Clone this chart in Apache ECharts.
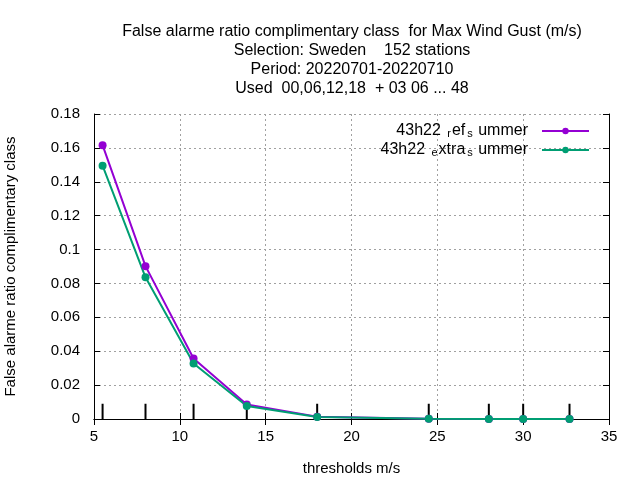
<!DOCTYPE html>
<html>
<head>
<meta charset="utf-8">
<script src="https://cdn.jsdelivr.net/npm/echarts@6/dist/echarts.min.js"></script>
<style>
  html, body { margin: 0; padding: 0; background: #fff; }
  #chart { width: 640px; height: 480px; }
</style>
</head>
<body>
<div id="chart"></div>
<script>
// thresholds (m/s)
var thresholds = [5.5, 8.0, 10.8, 13.9, 18.0, 24.5, 28.0, 30.0, 32.7];
// 43h22_ref_summer
var refSummer = [0.1616, 0.0902, 0.0357, 0.0085, 0.0014, 0.0001, 0, 0, 0];
// 43h22_extra_summer
var extraSummer = [0.1495, 0.0836, 0.0328, 0.0077, 0.0012, 0.0001, 0, 0, 0];
// threshold marks at the bottom
var markHeight = [0.009, 0.009, 0.009, 0.009, 0.009, 0.009, 0.009, 0.009, 0.009];

var titleLines = [
  'False alarme ratio complimentary class  for Max Wind Gust (m/s)',
  'Selection: Sweden    152 stations',
  'Period: 20220701-20220710',
  'Used  00,06,12,18  + 03 06 ... 48'
];

function pairs(xs, ys) {
  var out = [];
  for (var i = 0; i < xs.length; i++) out.push([xs[i], ys[i]]);
  return out;
}

var font = 'Liberation Sans';
var gridLine = { show: true, lineStyle: { color: '#a0a0a0', type: [2, 3], width: 1 } };

var chart = echarts.init(document.getElementById('chart'));

var option = {
  animation: false,
  textStyle: { fontFamily: font },
  title: {
    text: titleLines.join('\n'),
    left: 347,
    top: 17,
    textAlign: 'center',
    textStyle: { fontSize: 16, fontWeight: 'normal', color: '#000', lineHeight: 19, fontFamily: font }
  },
  legend: {
    orient: 'vertical',
    right: 45,
    top: 117,
    align: 'right',
    itemWidth: 47,
    itemHeight: 8,
    itemGap: 2,
    data: ['43h22_ref_summer', '43h22_extra_summer'],
    formatter: function (name) {
      if (name === '43h22_ref_summer') return '{a|43h22 }{s|r}{a|ef}{s|s}{a| ummer}{g|}';
      return '{a|43h22 }{s|e}{a|xtra}{s|s}{a| ummer}{g|}';
    },
    textStyle: {
      fontFamily: font,
      rich: {
        a: { fontSize: 16, color: '#000', fontFamily: font, verticalAlign: 'top', lineHeight: 16 },
        s: { fontSize: 11, color: '#000', fontFamily: font, verticalAlign: 'bottom', lineHeight: 12, padding: [6, 1, 0, 2] },
        g: { width: 9 }
      }
    }
  },
  grid: { left: 94, right: 31, top: 114, bottom: 61, outerBoundsMode: 'none', containLabel: false },
  xAxis: [{
    type: 'value', min: 5, max: 35, interval: 5,
    name: 'thresholds m/s', nameLocation: 'middle', nameGap: 42,
    nameTextStyle: { fontSize: 15, color: '#000', fontFamily: font },
    axisLine: { show: true, onZero: false, lineStyle: { color: '#000', width: 1 } },
    axisTick: { show: true, inside: true, length: 6, lineStyle: { color: '#000' } },
    axisLabel: { color: '#000', fontSize: 15, margin: 10, fontFamily: font },
    splitLine: gridLine
  }, {
    type: 'value', min: 5, max: 35, interval: 5, position: 'top',
    axisLine: { show: true, lineStyle: { color: '#000', width: 1 } },
    axisTick: { show: true, inside: true, length: 6, lineStyle: { color: '#000' } },
    axisLabel: { show: false },
    splitLine: { show: false }
  }],
  yAxis: [{
    type: 'value', min: 0, max: 0.18, interval: 0.02,
    name: 'False alarme ratio complimentary class', nameLocation: 'middle', nameGap: 76,
    nameTextStyle: { fontSize: 15, color: '#000', fontFamily: font },
    axisLine: { show: true, onZero: false, lineStyle: { color: '#000', width: 1 } },
    axisTick: { show: true, inside: true, length: 6, lineStyle: { color: '#000' } },
    axisLabel: {
      color: '#000', fontSize: 15, margin: 14, fontFamily: font,
      formatter: function (v) { return String(+v.toFixed(2)); }
    },
    splitLine: gridLine
  }, {
    type: 'value', min: 0, max: 0.18, interval: 0.02, position: 'right',
    axisLine: { show: true, lineStyle: { color: '#000', width: 1 } },
    axisTick: { show: true, inside: true, length: 6, lineStyle: { color: '#000' } },
    axisLabel: { show: false },
    splitLine: { show: false }
  }],
  series: [{
    name: 'marks',
    type: 'bar',
    xAxisIndex: 0, yAxisIndex: 0,
    barWidth: 2,
    itemStyle: { color: '#000' },
    data: pairs(thresholds, markHeight),
    silent: true
  }, {
    name: '43h22_ref_summer',
    type: 'line',
    xAxisIndex: 0, yAxisIndex: 0,
    data: pairs(thresholds, refSummer),
    symbol: 'circle', symbolSize: 8, showAllSymbol: true,
    itemStyle: { color: '#9400d3' },
    lineStyle: { color: '#9400d3', width: 2 }
  }, {
    name: '43h22_extra_summer',
    type: 'line',
    xAxisIndex: 0, yAxisIndex: 0,
    data: pairs(thresholds, extraSummer),
    symbol: 'circle', symbolSize: 8, showAllSymbol: true,
    itemStyle: { color: '#009e73' },
    lineStyle: { color: '#009e73', width: 2 }
  }]
};

chart.setOption(option);
</script>
</body>
</html>
